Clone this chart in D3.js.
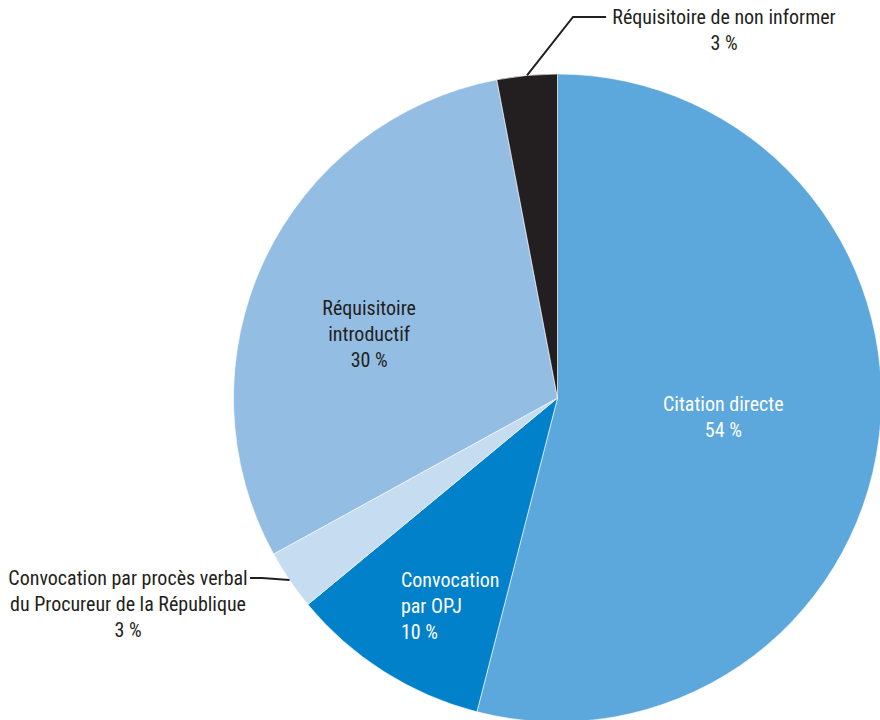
<!DOCTYPE html>
<html>
<head>
<meta charset="utf-8">
<script src="https://cdn.jsdelivr.net/npm/d3@7"></script>
<style>
  html, body { margin: 0; padding: 0; background: #fff; }
  svg { display: block; }
  text { font-family: "Liberation Sans Narrow", "Arial Narrow", "Roboto Condensed", sans-serif; font-size: 20px; }
</style>
</head>
<body>
<svg id="chart" width="880" height="720"></svg>
<script>
// Modes de saisine, répartition en %
const categories = [
  "Citation directe",
  "Convocation par OPJ",
  "Convocation par procès verbal du Procureur de la République",
  "Réquisitoire introductif",
  "Réquisitoire de non informer"
];
const values = [54, 10, 3, 30, 3];
const labelLines = [
  ["Citation directe", "54 %"],
  ["Convocation", "par OPJ", "10 %"],
  ["Convocation par procès verbal", "du Procureur de la République", "3 %"],
  ["Réquisitoire", "introductif", "30 %"],
  ["Réquisitoire de non informer", "3 %"]
];
const colors = ["#5ca7db", "#0081c9", "#c5dcf1", "#93bde3", "#231f20"];
const textColors = ["#ffffff", "#ffffff", "#231f20", "#231f20", "#231f20"];

const svg = d3.select("#chart");
const cx = 557.5, cy = 398, radius = 324;
const lineH = 26;

const pie = d3.pie().sort(null).value(d => d)(values);
const arc = d3.arc().innerRadius(0).outerRadius(radius);

const g = svg.append("g").attr("transform", `translate(${cx},${cy})`);

g.selectAll("path.slice")
  .data(pie)
  .join("path")
  .attr("class", "slice")
  .attr("d", arc)
  .attr("fill", (d, i) => colors[i])
  .attr("stroke", "#ffffff")
  .attr("stroke-width", 0.6);

// Inside labels: placed along the slice's mid angle, then nudged
const inside = [
  { i: 0, r: 151, anchor: "middle", dx: 16, dy: 0 },
  { i: 1, r: 240, anchor: "start", dx: -28, dy: 5 },
  { i: 3, r: 196, anchor: "middle", dx: -11, dy: 19 }
];
const polar = (a, r) => [Math.sin(a) * r, -Math.cos(a) * r];

inside.forEach(o => {
  const d = pie[o.i];
  const mid = (d.startAngle + d.endAngle) / 2;
  const [x, y] = polar(mid, o.r);
  const lines = labelLines[o.i];
  const t = g.append("text")
    .attr("text-anchor", o.anchor)
    .attr("fill", textColors[o.i]);
  lines.forEach((s, k) => {
    t.append("tspan")
      .attr("x", x + o.dx)
      .attr("y", y + o.dy + (k - (lines.length - 1) / 2) * lineH + 7)
      .text(s);
  });
});

// Outside labels with leader lines
const outside = [
  { i: 4, elbow: [573, 17], end: [606, 17], tx: 724, ty: 24 },
  { i: 2, elbow: [262, 578], end: [250, 578], tx: 128, ty: 585 }
];
outside.forEach(o => {
  const d = pie[o.i];
  const mid = (d.startAngle + d.endAngle) / 2;
  const [px, py] = polar(mid, radius);
  svg.append("path")
    .attr("d", d3.line()([[cx + px, cy + py], o.elbow, o.end]))
    .attr("fill", "none")
    .attr("stroke", "#231f20")
    .attr("stroke-width", 2);
  const t = svg.append("text")
    .attr("text-anchor", "middle")
    .attr("fill", textColors[o.i]);
  labelLines[o.i].forEach((s, k) => {
    t.append("tspan").attr("x", o.tx).attr("y", o.ty + k * lineH).text(s);
  });
});
</script>
</body>
</html>
